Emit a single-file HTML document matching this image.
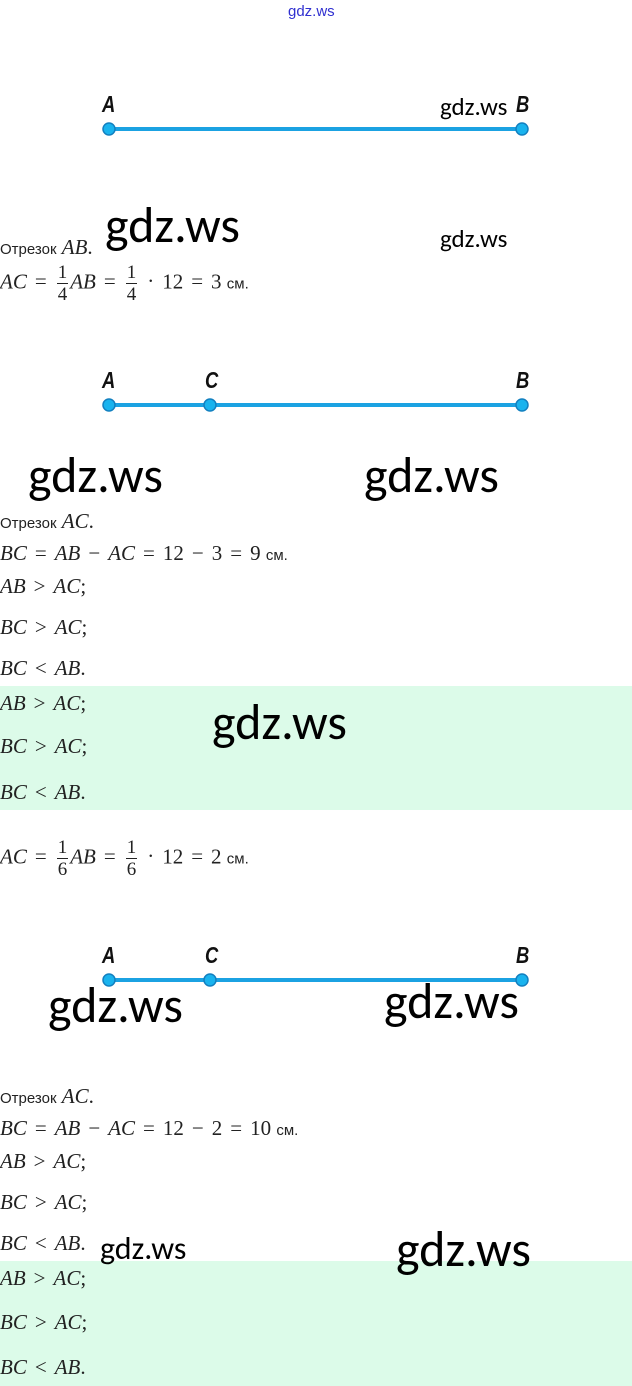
<!DOCTYPE html>
<html><head><meta charset="utf-8"><style>
body{margin:0;width:632px;height:1386px;position:relative;background:#fff;overflow:hidden;font-family:"Liberation Sans",sans-serif}
.a{position:absolute;white-space:nowrap}
.w{font-family:"Carlito","Liberation Sans",sans-serif;color:#000}
.big{font-size:50px;line-height:50px}
.sm{font-size:25px;line-height:25px}
.lbl{font-family:"Liberation Sans",sans-serif;font-style:italic;font-weight:bold;font-size:23px;line-height:23px;color:#111;transform:scaleX(0.8);transform-origin:left}
.m{font-family:"Liberation Serif",serif;font-size:21px;line-height:20px;color:#222}
.m i{font-style:italic}
.o{margin:0 8px}
.t{font-family:"Liberation Sans",sans-serif;font-size:15px;font-style:normal;color:#222}
.g{position:absolute;left:0;width:632px;background:#dcfbe9}
.fr{display:inline-block;vertical-align:middle;text-align:center;font-size:19px;line-height:21px;margin:0 2px}
.fr span{display:block}
.fr .n{border-bottom:1px solid #222;padding:0 1px}
</style></head><body>
<div class="a" style="left:288px;top:3px;font-size:15px;color:#3030d0">gdz.ws</div>

<svg class="a" style="left:0;top:0" width="632" height="1386">
<g stroke="#1ba2e2" stroke-width="4">
<line x1="109" y1="129" x2="522" y2="129"/>
<line x1="109" y1="405" x2="522" y2="405"/>
<line x1="109" y1="980" x2="522" y2="980"/>
</g>
<g fill="#19b3ee" stroke="#1380c0" stroke-width="1.5">
<circle cx="109" cy="129" r="6"/><circle cx="522" cy="129" r="6"/>
<circle cx="109" cy="405" r="6"/><circle cx="210" cy="405" r="6"/><circle cx="522" cy="405" r="6"/>
<circle cx="109" cy="980" r="6"/><circle cx="210" cy="980" r="6"/><circle cx="522" cy="980" r="6"/>
</g>
</svg>

<div class="a lbl" style="left:102px;top:93px">A</div>
<div class="a lbl" style="left:516px;top:93px">B</div>
<div class="a w sm" style="left:440px;top:94px">gdz.ws</div>
<div class="a w big" style="left:105px;top:201px">gdz.ws</div>
<div class="a w sm" style="left:440px;top:226px">gdz.ws</div>
<div class="a m" style="left:0;top:237px"><span class="t">Отрезок</span> <i>AB</i>.</div>
<div class="a m" style="left:0;top:262px"><i>AC</i><span class="o">=</span><span class="fr"><span class="n">1</span><span>4</span></span><i>AB</i><span class="o">=</span><span class="fr"><span class="n">1</span><span>4</span></span><span class="o">·</span>12<span class="o">=</span>3 <span class="t">см.</span></div>

<div class="a lbl" style="left:102px;top:369px">A</div>
<div class="a lbl" style="left:205px;top:369px">C</div>
<div class="a lbl" style="left:516px;top:369px">B</div>
<div class="a w big" style="left:28px;top:451px">gdz.ws</div>
<div class="a w big" style="left:364px;top:451px">gdz.ws</div>
<div class="a m" style="left:0;top:511px"><span class="t">Отрезок</span> <i>AC</i>.</div>
<div class="a m" style="left:0;top:543px"><i>BC</i><span class="o">=</span><i>AB</i><span class="o">−</span><i>AC</i><span class="o">=</span>12<span class="o">−</span>3<span class="o">=</span>9 <span class="t">см.</span></div>
<div class="a m" style="left:0;top:576px"><i>AB</i><span class="o">&gt;</span><i>AC</i>;</div>
<div class="a m" style="left:0;top:617px"><i>BC</i><span class="o">&gt;</span><i>AC</i>;</div>
<div class="a m" style="left:0;top:658px"><i>BC</i><span class="o">&lt;</span><i>AB</i>.</div>
<div class="g" style="top:686px;height:124px"></div>
<div class="a m" style="left:0;top:693px"><i>AB</i><span class="o">&gt;</span><i>AC</i>;</div>
<div class="a m" style="left:0;top:736px"><i>BC</i><span class="o">&gt;</span><i>AC</i>;</div>
<div class="a m" style="left:0;top:782px"><i>BC</i><span class="o">&lt;</span><i>AB</i>.</div>
<div class="a w big" style="left:212px;top:698px">gdz.ws</div>
<div class="a m" style="left:0;top:837px"><i>AC</i><span class="o">=</span><span class="fr"><span class="n">1</span><span>6</span></span><i>AB</i><span class="o">=</span><span class="fr"><span class="n">1</span><span>6</span></span><span class="o">·</span>12<span class="o">=</span>2 <span class="t">см.</span></div>

<div class="a lbl" style="left:102px;top:944px">A</div>
<div class="a lbl" style="left:205px;top:944px">C</div>
<div class="a lbl" style="left:516px;top:944px">B</div>
<div class="a w big" style="left:48px;top:981px">gdz.ws</div>
<div class="a w big" style="left:384px;top:977px">gdz.ws</div>
<div class="a m" style="left:0;top:1086px"><span class="t">Отрезок</span> <i>AC</i>.</div>
<div class="a m" style="left:0;top:1118px"><i>BC</i><span class="o">=</span><i>AB</i><span class="o">−</span><i>AC</i><span class="o">=</span>12<span class="o">−</span>2<span class="o">=</span>10 <span class="t">см.</span></div>
<div class="a m" style="left:0;top:1151px"><i>AB</i><span class="o">&gt;</span><i>AC</i>;</div>
<div class="a m" style="left:0;top:1192px"><i>BC</i><span class="o">&gt;</span><i>AC</i>;</div>
<div class="a m" style="left:0;top:1233px"><i>BC</i><span class="o">&lt;</span><i>AB</i>.</div>
<div class="g" style="top:1261px;height:125px"></div>
<div class="a w" style="left:100px;top:1233px;font-size:32px;line-height:32px">gdz.ws</div>
<div class="a w big" style="left:396px;top:1225px">gdz.ws</div>
<div class="a m" style="left:0;top:1268px"><i>AB</i><span class="o">&gt;</span><i>AC</i>;</div>
<div class="a m" style="left:0;top:1312px"><i>BC</i><span class="o">&gt;</span><i>AC</i>;</div>
<div class="a m" style="left:0;top:1357px"><i>BC</i><span class="o">&lt;</span><i>AB</i>.</div>
</body></html>
